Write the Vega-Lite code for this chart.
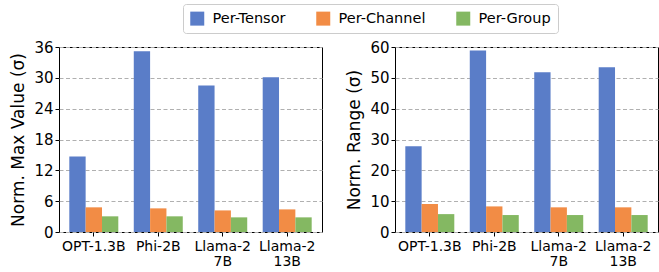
{
  "$schema": "https://vega.github.io/schema/vega-lite/v6.json",
  "padding": {"left": 9, "top": 3, "right": 0, "bottom": 0},
  "background": "white",
  "datasets": {
    "maxv": [
      {"model": "OPT-1.3B", "series": "Per-Tensor", "value": 14.7},
      {"model": "OPT-1.3B", "series": "Per-Channel", "value": 4.8},
      {"model": "OPT-1.3B", "series": "Per-Group", "value": 3.05},
      {"model": "Phi-2B", "series": "Per-Tensor", "value": 35.15},
      {"model": "Phi-2B", "series": "Per-Channel", "value": 4.6},
      {"model": "Phi-2B", "series": "Per-Group", "value": 3.05},
      {"model": "Llama-2 7B", "series": "Per-Tensor", "value": 28.5},
      {"model": "Llama-2 7B", "series": "Per-Channel", "value": 4.2},
      {"model": "Llama-2 7B", "series": "Per-Group", "value": 2.85},
      {"model": "Llama-2 13B", "series": "Per-Tensor", "value": 30.1},
      {"model": "Llama-2 13B", "series": "Per-Channel", "value": 4.4},
      {"model": "Llama-2 13B", "series": "Per-Group", "value": 2.85}
    ],
    "range": [
      {"model": "OPT-1.3B", "series": "Per-Tensor", "value": 27.8},
      {"model": "OPT-1.3B", "series": "Per-Channel", "value": 9.1},
      {"model": "OPT-1.3B", "series": "Per-Group", "value": 5.8},
      {"model": "Phi-2B", "series": "Per-Tensor", "value": 58.9},
      {"model": "Phi-2B", "series": "Per-Channel", "value": 8.3},
      {"model": "Phi-2B", "series": "Per-Group", "value": 5.5},
      {"model": "Llama-2 7B", "series": "Per-Tensor", "value": 51.8},
      {"model": "Llama-2 7B", "series": "Per-Channel", "value": 8.0},
      {"model": "Llama-2 7B", "series": "Per-Group", "value": 5.5},
      {"model": "Llama-2 13B", "series": "Per-Tensor", "value": 53.4},
      {"model": "Llama-2 13B", "series": "Per-Channel", "value": 8.0},
      {"model": "Llama-2 13B", "series": "Per-Group", "value": 5.5}
    ]
  },
  "bounds": "flush",
  "spacing": 73,
  "resolve": {"scale": {"color": "shared"}},
  "hconcat": [
    {
      "width": 263,
      "height": 185,
      "data": {"name": "maxv"},
      "mark": {"type": "bar"},
      "encoding": {
        "x": {"field": "model", "type": "nominal", "sort": ["OPT-1.3B", "Phi-2B", "Llama-2 7B", "Llama-2 13B"],
              "scale": {"paddingInner": 0.24, "paddingOuter": 0.16},
              "axis": {"title": null, "labelAngle": 0, "labelExpr": "split(datum.label, ' ')"}},
        "xOffset": {"field": "series", "type": "nominal", "sort": ["Per-Tensor", "Per-Channel", "Per-Group"],
                    "scale": {"paddingInner": 0, "paddingOuter": 0}},
        "y": {"field": "value", "type": "quantitative", "scale": {"domain": [0, 36], "nice": false},
              "axis": {"title": "Norm. Max Value (σ)", "values": [0, 6, 12, 18, 24, 30, 36]}},
        "color": {"field": "series", "type": "nominal", "sort": ["Per-Tensor", "Per-Channel", "Per-Group"],
                  "scale": {"domain": ["Per-Tensor", "Per-Channel", "Per-Group"], "range": ["#5A7DC8", "#F28C45", "#84B862"]},
                  "legend": {"title": null, "orient": "none", "legendX": 124, "legendY": -43, "direction": "horizontal"}}
      }
    },
    {
      "width": 263,
      "height": 185,
      "data": {"name": "range"},
      "mark": {"type": "bar"},
      "encoding": {
        "x": {"field": "model", "type": "nominal", "sort": ["OPT-1.3B", "Phi-2B", "Llama-2 7B", "Llama-2 13B"],
              "scale": {"paddingInner": 0.24, "paddingOuter": 0.16},
              "axis": {"title": null, "labelAngle": 0, "labelExpr": "split(datum.label, ' ')"}},
        "xOffset": {"field": "series", "type": "nominal", "sort": ["Per-Tensor", "Per-Channel", "Per-Group"],
                    "scale": {"paddingInner": 0, "paddingOuter": 0}},
        "y": {"field": "value", "type": "quantitative", "scale": {"domain": [0, 60], "nice": false},
              "axis": {"title": "Norm. Range (σ)", "values": [0, 10, 20, 30, 40, 50, 60]}},
        "color": {"field": "series", "type": "nominal", "sort": ["Per-Tensor", "Per-Channel", "Per-Group"],
                  "scale": {"domain": ["Per-Tensor", "Per-Channel", "Per-Group"], "range": ["#5A7DC8", "#F28C45", "#84B862"]},
                  "legend": {"title": null, "orient": "none", "legendX": 124, "legendY": -43, "direction": "horizontal"}}
      }
    }
  ],
  "config": {
    "font": "DejaVu Sans",
    "view": {"stroke": "black", "strokeWidth": 1},
    "axis": {
      "domain": false,
      "tickColor": "black",
      "tickSize": 4,
      "labelColor": "black",
      "labelFont": "DejaVu Sans",
      "labelFontSize": 15,
      "labelPadding": 2,
      "labelLineHeight": 16,
      "titleFont": "DejaVu Sans",
      "titleFontSize": 17,
      "titleFontWeight": "normal",
      "titleColor": "black",
      "titlePadding": 6
    },
    "axisX": {"grid": false, "labelPadding": 3, "labelFontSize": 14, "labelLineHeight": 15},
    "axisY": {"grid": true, "gridColor": "#b0b0b0", "gridDash": [4, 2.5], "gridWidth": 1},
    "legend": {
      "strokeColor": "#cccccc",
      "fillColor": "white",
      "cornerRadius": 3,
      "padding": 7,
      "symbolType": "square",
      "symbolSize": 196,
      "symbolStrokeWidth": 0,
      "symbolOpacity": 1,
      "labelFontSize": 14.5,
      "labelFont": "DejaVu Sans",
      "labelColor": "black",
      "labelOffset": 8,
      "columnPadding": 30
    }
  }
}
